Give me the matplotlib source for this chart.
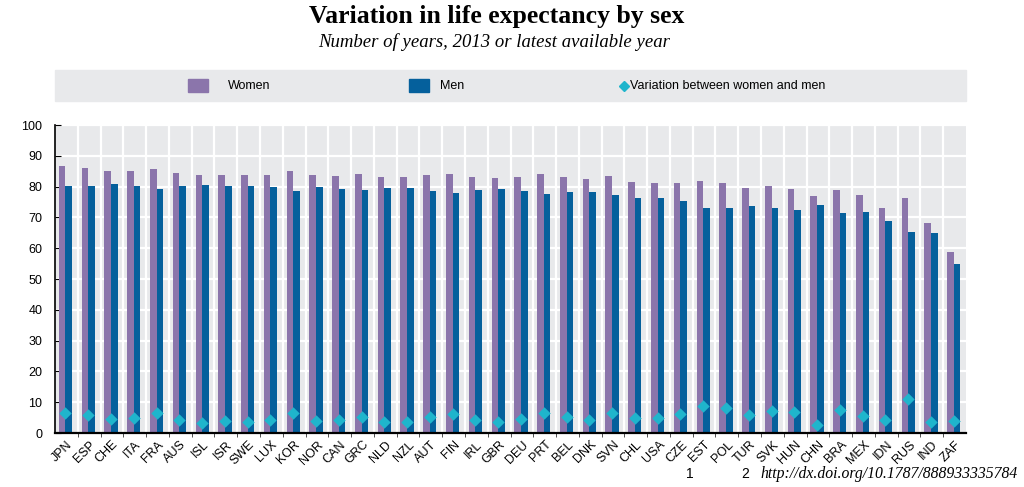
import numpy as np
import matplotlib
matplotlib.use("Agg")
import matplotlib.pyplot as plt
from matplotlib.patches import Rectangle
from matplotlib.lines import Line2D

# data
countries = ["JPN", "ESP", "CHE", "ITA", "FRA", "AUS", "ISL", "ISR", "SWE", "LUX",
             "KOR", "NOR", "CAN", "GRC", "NLD", "NZL", "AUT", "FIN", "IRL", "GBR",
             "DEU", "PRT", "BEL", "DNK", "SVN", "CHL", "USA", "CZE", "EST", "POL",
             "TUR", "SVK", "HUN", "CHN", "BRA", "MEX", "IDN", "RUS", "IND", "ZAF"]
women = [86.6, 86.1, 85.2, 85.2, 85.6, 84.3, 83.7, 83.9, 83.8, 83.9,
         85.1, 83.8, 83.6, 84.0, 83.2, 83.2, 83.8, 84.1, 83.1, 82.9,
         83.2, 84.0, 83.2, 82.4, 83.6, 81.4, 81.2, 81.3, 81.7, 81.2,
         79.4, 80.1, 79.1, 76.8, 78.8, 77.4, 73.0, 76.3, 68.3, 58.9]
men = [80.2, 80.2, 80.7, 80.3, 79.2, 80.1, 80.5, 80.1, 80.2, 79.8,
       78.5, 79.8, 79.3, 78.8, 79.5, 79.5, 78.6, 78.0, 79.0, 79.2,
       78.6, 77.6, 78.1, 78.3, 77.2, 76.4, 76.4, 75.2, 73.0, 73.0,
       73.7, 72.9, 72.3, 74.1, 71.3, 71.8, 68.9, 65.1, 64.8, 54.9]
variation = [6.4, 5.9, 4.5, 4.9, 6.4, 4.2, 3.2, 3.8, 3.6, 4.1,
             6.6, 4.0, 4.3, 5.2, 3.7, 3.7, 5.2, 6.1, 4.1, 3.7,
             4.6, 6.4, 5.1, 4.1, 6.4, 5.0, 4.8, 6.1, 8.7, 8.2,
             5.7, 7.2, 6.8, 2.7, 7.5, 5.6, 4.1, 11.2, 3.5, 4.0]

c_women = "#8b75ab"
c_men = "#05609c"
c_var = "#1fb5cc"
c_bg = "#e8e9eb"

plt.rcParams["font.family"] = ["Liberation Sans", "DejaVu Sans"]

fig = plt.figure(figsize=(10.24, 4.87), dpi=100)
ax = fig.add_axes([55 / 1024, 1 - 433 / 487, 911 / 1024, 308 / 487])
ax.set_facecolor(c_bg)

x = np.arange(len(countries))
w = 0.29
ax.bar(x - w / 2 - 0.04, women, width=w, color=c_women, zorder=2)
ax.bar(x + w / 2 - 0.04, men, width=w, color=c_men, zorder=2)
ax.scatter(x - 0.04, variation, marker="D", s=40, color=c_var, zorder=3, linewidths=0)

ax.set_xlim(-0.5, len(countries) - 0.5)
ax.set_ylim(0, 100)
ax.set_yticks(range(0, 101, 10))
ax.set_xticks(x)
ax.set_xticklabels(countries, rotation=45, ha="right", rotation_mode="anchor", fontsize=9)
ax.set_xticks(x[:-1] + 0.5, minor=True)
ax.tick_params(axis="x", which="major", length=0, pad=4)
ax.tick_params(axis="x", which="minor", length=3, direction="out", color="#333333")
ax.tick_params(axis="y", length=4, direction="in", labelsize=9, pad=9)

# white grid
for xi in x[:-1]:
    ax.axvline(xi + 0.5, color="white", lw=1.6, zorder=1)
for yi in range(10, 101, 10):
    ax.axhline(yi, color="white", lw=1.6, zorder=1)

for s in ["top", "right"]:
    ax.spines[s].set_visible(False)
ax.spines["left"].set_linewidth(1.2)
ax.spines["bottom"].set_linewidth(1.6)
ax.spines["bottom"].set_zorder(4)

# titles
fig.text(497 / 1024, 1 - 16 / 487, "Variation in life expectancy by sex", ha="center", va="center",
         fontsize=18.5, fontweight="bold", family="Liberation Serif")
fig.text(494 / 1024, 1 - 42 / 487, "Number of years, 2013 or latest available year", ha="center",
         va="center", fontsize=13.5, style="italic", family="Liberation Serif")

# legend band
fig.add_artist(Rectangle((55 / 1024, 1 - 101 / 487), 911 / 1024, 31 / 487,
                         transform=fig.transFigure, color=c_bg, zorder=0))
ly = 1 - 86 / 487
fig.add_artist(Rectangle((188 / 1024, 1 - 92 / 487), 20 / 1024, 13 / 487,
                         transform=fig.transFigure, color=c_women))
fig.text(228 / 1024, ly, "Women", va="center", fontsize=9)
fig.add_artist(Rectangle((409 / 1024, 1 - 92 / 487), 20 / 1024, 13 / 487,
                         transform=fig.transFigure, color=c_men))
fig.text(440 / 1024, ly, "Men", va="center", fontsize=9)
fig.add_artist(Line2D([624 / 1024], [ly], marker="D", markersize=5, color=c_var,
                      transform=fig.transFigure, linestyle="none"))
fig.text(630 / 1024, ly, "Variation between women and men", va="center", fontsize=9)

# footnote
fy = 1 - 474 / 487
fig.text(690 / 1024, fy, "1", va="center", ha="center", fontsize=10)
fig.text(745 / 1024, fy, "2", va="center", ha="center", fontsize=10)
fig.text(760 / 1024, fy, "http://dx.doi.org/10.1787/888933335784", va="center",
         fontsize=11.3, style="italic", family="Liberation Serif")

fig.savefig("out.png", dpi=100)
